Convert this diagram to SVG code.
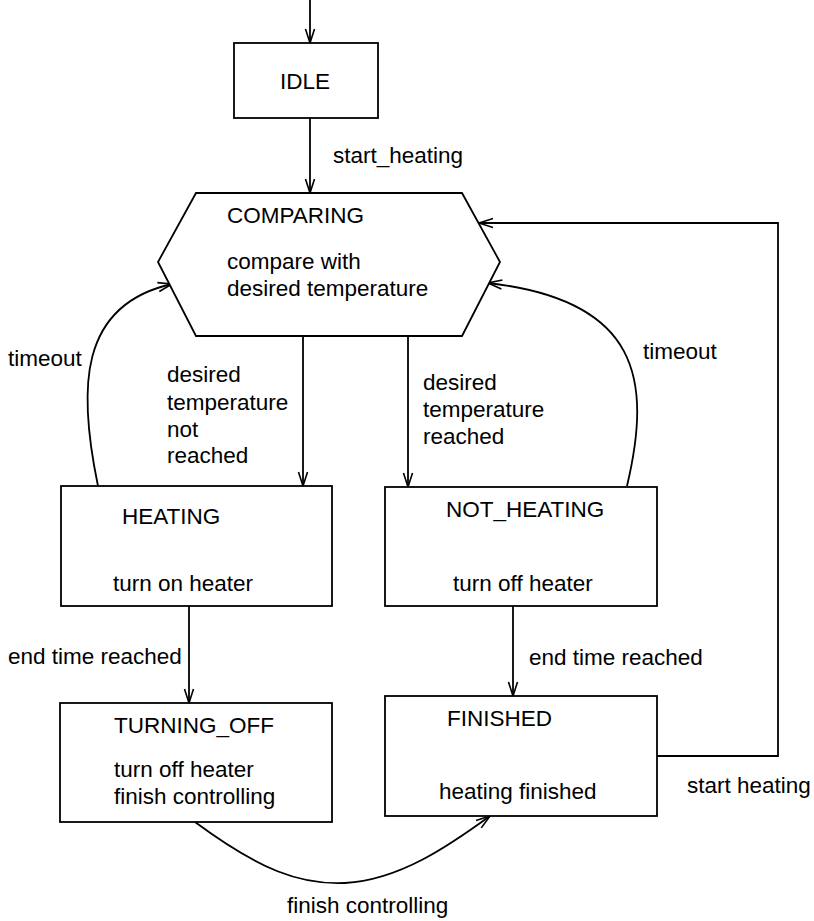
<svg xmlns="http://www.w3.org/2000/svg" width="814" height="921" viewBox="0 0 814 921">
<style>
.n{fill:#fff;stroke:#000;stroke-width:1.8}
.c{fill:none;stroke:#000;stroke-width:1.8}
text{font-family:"Liberation Sans",Arial,sans-serif;font-size:22.5px;fill:#000}
</style>
<defs>
<marker id="a" viewBox="0 0 16 12" refX="15" refY="6" markerWidth="16" markerHeight="12" markerUnits="userSpaceOnUse" orient="auto">
<path d="M1,1.5 L15,6 L1,10.5" fill="none" stroke="#000" stroke-width="1.6"/>
</marker>
</defs>
<rect width="814" height="921" fill="#fff"/>
<g id="connectors">
<path class="c" d="M310,0 L310,43" marker-end="url(#a)"/>
<path class="c" d="M310,118 L310,193" marker-end="url(#a)"/>
<path class="c" d="M303,336 L303,486" marker-end="url(#a)"/>
<path class="c" d="M408,336 L408,487" marker-end="url(#a)"/>
<path class="c" d="M98,486 C78,390 78,305 172,284" marker-end="url(#a)"/>
<path class="c" d="M627,486 C652,380 640,300 488,283" marker-end="url(#a)"/>
<path class="c" d="M189,606 L189,703" marker-end="url(#a)"/>
<path class="c" d="M513,606 L513,696" marker-end="url(#a)"/>
<path class="c" d="M657,756 L778,756 L778,223 L479,223" marker-end="url(#a)"/>
<path class="c" d="M195,822 C260,870 300,885 345,883 C400,880 450,845 490,816" marker-end="url(#a)"/>
<text x="333" y="163">start_heating</text>
<text x="8" y="366">timeout</text>
<text x="167" y="382">desired</text>
<text x="167" y="410">temperature</text>
<text x="167" y="437">not</text>
<text x="167" y="463">reached</text>
<text x="423" y="390">desired</text>
<text x="423" y="417">temperature</text>
<text x="423" y="444">reached</text>
<text x="643" y="359">timeout</text>
<text x="8" y="664">end time reached</text>
<text x="529" y="665">end time reached</text>
<text x="687" y="793">start heating</text>
<text x="287" y="913">finish controlling</text>
</g>
<g id="idle">
<rect class="n" x="234" y="43" width="144" height="75"/>
<text x="280" y="89">IDLE</text>
</g>
<g id="comparing">
<polygon class="n" points="196,193 462,193 500,262 462,336 196,336 158,262"/>
<text x="227" y="223">COMPARING</text>
<text x="227" y="269">compare with</text>
<text x="227" y="296">desired temperature</text>
</g>
<g id="heating">
<rect class="n" x="61" y="486" width="271" height="120"/>
<text x="122" y="524">HEATING</text>
<text x="113" y="591">turn on heater</text>
</g>
<g id="not_heating">
<rect class="n" x="385" y="487" width="272" height="119"/>
<text x="446" y="517">NOT_HEATING</text>
<text x="453" y="591">turn off heater</text>
</g>
<g id="turning_off">
<rect class="n" x="60" y="703" width="272" height="119"/>
<text x="114" y="733">TURNING_OFF</text>
<text x="114" y="777">turn off heater</text>
<text x="114" y="804">finish controlling</text>
</g>
<g id="finished">
<rect class="n" x="385" y="696" width="272" height="120"/>
<text x="447" y="726">FINISHED</text>
<text x="439" y="799">heating finished</text>
</g>
</svg>
